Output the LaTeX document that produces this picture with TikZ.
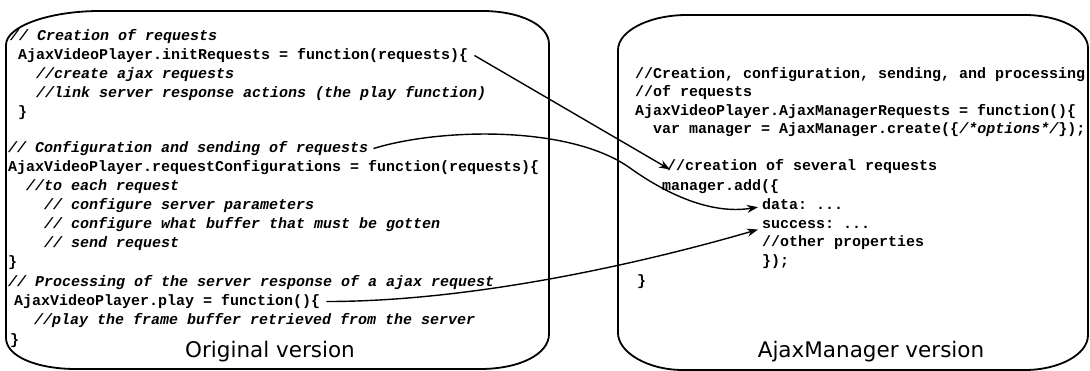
\documentclass[tikz,border=0pt]{standalone}
\usepackage{fontspec}
\setmainfont{DejaVu Sans}
\setmonofont{Liberation Mono}
\usetikzlibrary{arrows.meta}
\newcommand\codesize{\fontsize{15}{18}\selectfont}
\tikzset{
  code/.style={anchor=base west, inner sep=0pt, font=\codesize\ttfamily\bfseries},
  cmt/.style={anchor=base west, inner sep=0pt, font=\codesize\ttfamily\bfseries\itshape},
  box/.style={line width=1.8pt, line join=round},
  link/.style={line width=1.4pt, -{Stealth[length=11pt,width=8pt]}},
  vtitle/.style={anchor=base, inner sep=0pt, font=\fontsize{21.5}{24}\selectfont}
}
\begin{document}
\begin{tikzpicture}[x=1pt,y=-1pt]
\useasboundingbox (0,0) rectangle (1090,371);
% boxes
\draw[box] (6,45) .. controls (6,26) and (50,11) .. (100,11) -- (482,11)
  .. controls (520,11) and (549,25) .. (549,44) -- (549,334)
  .. controls (549,354) and (520,369) .. (480,369) -- (76,369)
  .. controls (36,369) and (6,356) .. (6,338) -- cycle;
\draw[box] (618,50) .. controls (618,31) and (649,15) .. (687,15) -- (1025,15)
  .. controls (1058,15) and (1088,29) .. (1088,48) -- (1088,335)
  .. controls (1088,355) and (1058,370) .. (1025,370) -- (683,370)
  .. controls (647,370) and (618,352) .. (618,333) -- cycle;
% left code
\node[cmt]  (l1)  at (10,40.5)  {// Creation of requests};
\node[code] (init) at (18,59.5) {AjaxVideoPlayer.initRequests = function(requests)\{};
\node[cmt]  (l3)  at (36,78.5)  {//create ajax requests};
\node[cmt]  (l4)  at (36,97.5)  {//link server response actions (the play function)};
\node[code] (l5)  at (18,116.5) {\}};
\node[cmt]  (cfgc) at (8,152.5) {// Configuration and sending of requests};
\node[code] (l7)  at (8,171.5)  {AjaxVideoPlayer.requestConfigurations = function(requests)\{};
\node[cmt]  (l8)  at (26,190.5) {//to each request};
\node[cmt]  (l9)  at (44,209.5) {// configure server parameters};
\node[cmt]  (l10) at (44,228.5) {// configure what buffer that must be gotten};
\node[cmt]  (l11) at (44,247.5) {// send request};
\node[code] (l12) at (8,266.5)  {\}};
\node[cmt]  (l13) at (8,286.5)  {// Processing of the server response of a ajax request};
\node[code] (play) at (14,305.5) {AjaxVideoPlayer.play = function()\{};
\node[cmt]  (l15) at (34,324.5) {//play the frame buffer retrieved from the server};
\node[code] (l16) at (10,344.5) {\}};
\node[vtitle] (t1) at (270,358) {Original version};
% right code
\node[code] (r1) at (635,78.5)  {//Creation, configuration, sending, and processing};
\node[code] (r2) at (635,96.5)  {//of requests};
\node[code] (r3) at (635,115.5) {AjaxVideoPlayer.AjaxManagerRequests = function()\{};
\node[code] (r4) at (653,133.5) {var manager = AjaxManager.create(\{{\itshape/*options*/}\});};
\node[code] (crea) at (667,170.5) {//creation of several requests};
\node[code] (madd) at (662,190.5) {manager.add(\{};
\node[code] (data) at (762,209.5) {data: ...};
\node[code] (succ) at (762,228.5) {success: ...};
\node[code] (r9)  at (762,246.5) {//other properties};
\node[code] (r10) at (762,265.5) {\});};
\node[code] (r11) at (637,285.5) {\}};
\node[vtitle] (t2) at (871,358) {AjaxManager version};
% connectors
\coordinate (bend) at (630,168);
\draw[link] ([xshift=6pt]init.east) -- ([xshift=3pt,yshift=-3pt]crea.west);
\draw[link] ([xshift=5pt]cfgc.east) .. controls (440,128) and (570,125) .. (bend)
  .. controls (665,193) and (710,215) .. ([xshift=-4pt,yshift=-3pt]data.west);
\draw[link] ([xshift=6pt]play.east) .. controls +(150,0) and +(-110,32) .. ([xshift=-4pt,yshift=-5pt]succ.west);
\end{tikzpicture}
\end{document}
